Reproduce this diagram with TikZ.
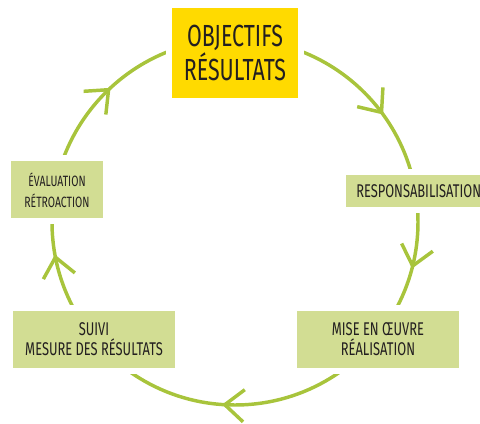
\documentclass[tikz,border=0pt]{standalone}
\usepackage{fontspec}
\newfontfamily\cond[FakeStretch=0.7]{Fira Sans}
\usetikzlibrary{calc}
\definecolor{cycgreen}{HTML}{A8C43C}
\definecolor{boxgreen}{HTML}{D2DD93}
\definecolor{boxyellow}{HTML}{FFDA00}
\definecolor{txt}{HTML}{231F20}
\begin{document}
\begin{tikzpicture}[x=0.75pt,y=-0.75pt,
  cyc/.style={draw=cycgreen, line width=2.6pt},
  chev/.style={draw=cycgreen, line width=2.6pt, line join=miter},
  box/.style={fill=boxgreen, inner sep=0pt, align=center, text=txt,
    font=\cond\fontsize{13.8}{15}\selectfont,
    preaction={draw=white, line width=9pt}},
  smallbox/.style={box, font=\cond\fontsize{11.2}{15.75}\selectfont},
  bigbox/.style={box, fill=boxyellow, font=\cond\fontsize{22.9}{25.5}\selectfont}]
\useasboundingbox (0,0) rectangle (480,424);
\clip (0,0) rectangle (480,424);
\coordinate (c) at (235,222);
\draw[cyc] (c) circle[radius=137.25pt];
\foreach \a/\n in {226.3/t1, 323.2/t2, 13.9/t3, 93.2/t4, 168.9/t5}{
  \coordinate (\n) at ($(c)+(\a:183)$);
  \draw[chev] ($(\n)+(\a+310:25)$) -- (\n) -- ($(\n)+(\a+230:25)$);
}
\node[bigbox, minimum width=126*0.75pt, minimum height=90*0.75pt] (obj) at (235,53) {OBJECTIFS\\RÉSULTATS};
\node[smallbox, minimum width=92*0.75pt, minimum height=57*0.75pt] (eval) at (57,190) {ÉVALUATION\\RÉTROACTION};
\node[box, anchor=west, minimum height=32*0.75pt, inner xsep=10*0.75pt] (resp) at (346,191) {RESPONSABILISATION};
\node[box, minimum width=162*0.75pt, minimum height=57*0.75pt] (suivi) at (94,339.5) {SUIVI\\MESURE DES RÉSULTATS};
\node[box, minimum width=162*0.75pt, minimum height=57*0.75pt] (mise) at (378,339.5) {MISE EN ŒUVRE\\RÉALISATION};
\end{tikzpicture}
\end{document}
